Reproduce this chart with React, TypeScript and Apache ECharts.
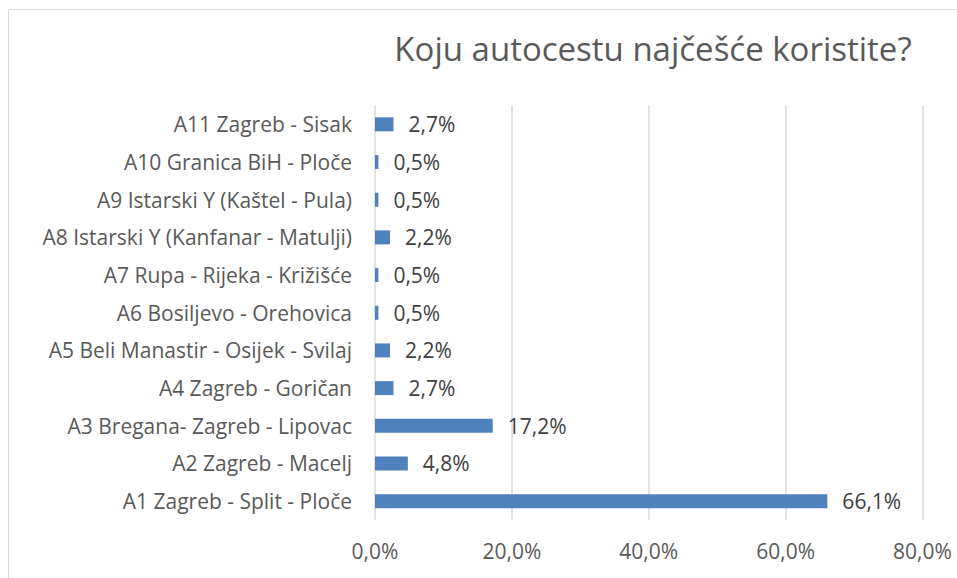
import React, { useEffect, useRef } from "react";
import * as echarts from "echarts";

const categories = [
  "A1 Zagreb - Split - Ploče",
  "A2 Zagreb - Macelj",
  "A3 Bregana- Zagreb - Lipovac",
  "A4 Zagreb - Goričan",
  "A5 Beli Manastir - Osijek - Svilaj",
  "A6 Bosiljevo - Orehovica",
  "A7 Rupa - Rijeka - Križišće",
  "A8 Istarski Y (Kanfanar - Matulji)",
  "A9 Istarski Y (Kaštel - Pula)",
  "A10 Granica BiH - Ploče",
  "A11 Zagreb - Sisak",
];
const values = [66.1, 4.8, 17.2, 2.7, 2.2, 0.5, 0.5, 2.2, 0.5, 0.5, 2.7];
const title = "Koju autocestu najčešće koristite?";
const FONT = "Open Sans";

const fmt = (v: number) => v.toFixed(1).replace(".", ",") + "%";

export default function App() {
  const ref = useRef<HTMLDivElement>(null);
  useEffect(() => {
    if (!ref.current) return;
    const chart = echarts.init(ref.current, null, { renderer: "svg" });
    chart.setOption({
      animation: false,
      backgroundColor: "#ffffff",
      title: {
        text: title,
        left: 648,
        top: 27,
        textAlign: "center",
        textStyle: { fontFamily: FONT, fontSize: 33, fontWeight: "normal", color: "#595959" },
      },
      graphic: [
        {
          type: "rect",
          shape: { x: 8.5, y: 9.5, width: 1000, height: 1000 },
          style: { fill: "none", stroke: "#d9d9d9", lineWidth: 1 },
          silent: true,
        },
      ],
      grid: { left: 375, right: 34.5, top: 105.5, bottom: 58 },
      xAxis: {
        type: "value",
        min: 0,
        max: 80,
        interval: 20,
        axisLine: { show: false },
        axisTick: { show: false },
        splitLine: { lineStyle: { color: "#d9d9d9", width: 1.5 } },
        axisLabel: {
          formatter: (v: number) => fmt(v),
          fontFamily: FONT,
          fontSize: 21,
          color: "#595959",
          margin: 20,
        },
      },
      yAxis: {
        type: "category",
        data: categories,
        axisLine: { show: false },
        axisTick: { show: false },
        axisLabel: { fontFamily: FONT, fontSize: 21, color: "#595959", margin: 23 },
      },
      series: [
        {
          type: "bar",
          data: values,
          barWidth: 14,
          itemStyle: { color: "#4f81bd" },
          label: {
            show: true,
            position: "right",
            distance: 15,
            formatter: (p: any) => fmt(p.value),
            fontFamily: FONT,
            fontSize: 21,
            color: "#404040",
          },
        },
      ],
    });
    return () => chart.dispose();
  }, []);
  return (
    <div
      ref={ref}
      style={{ position: "fixed", left: 0, top: 0, width: 957, height: 578 }}
    />
  );
}
